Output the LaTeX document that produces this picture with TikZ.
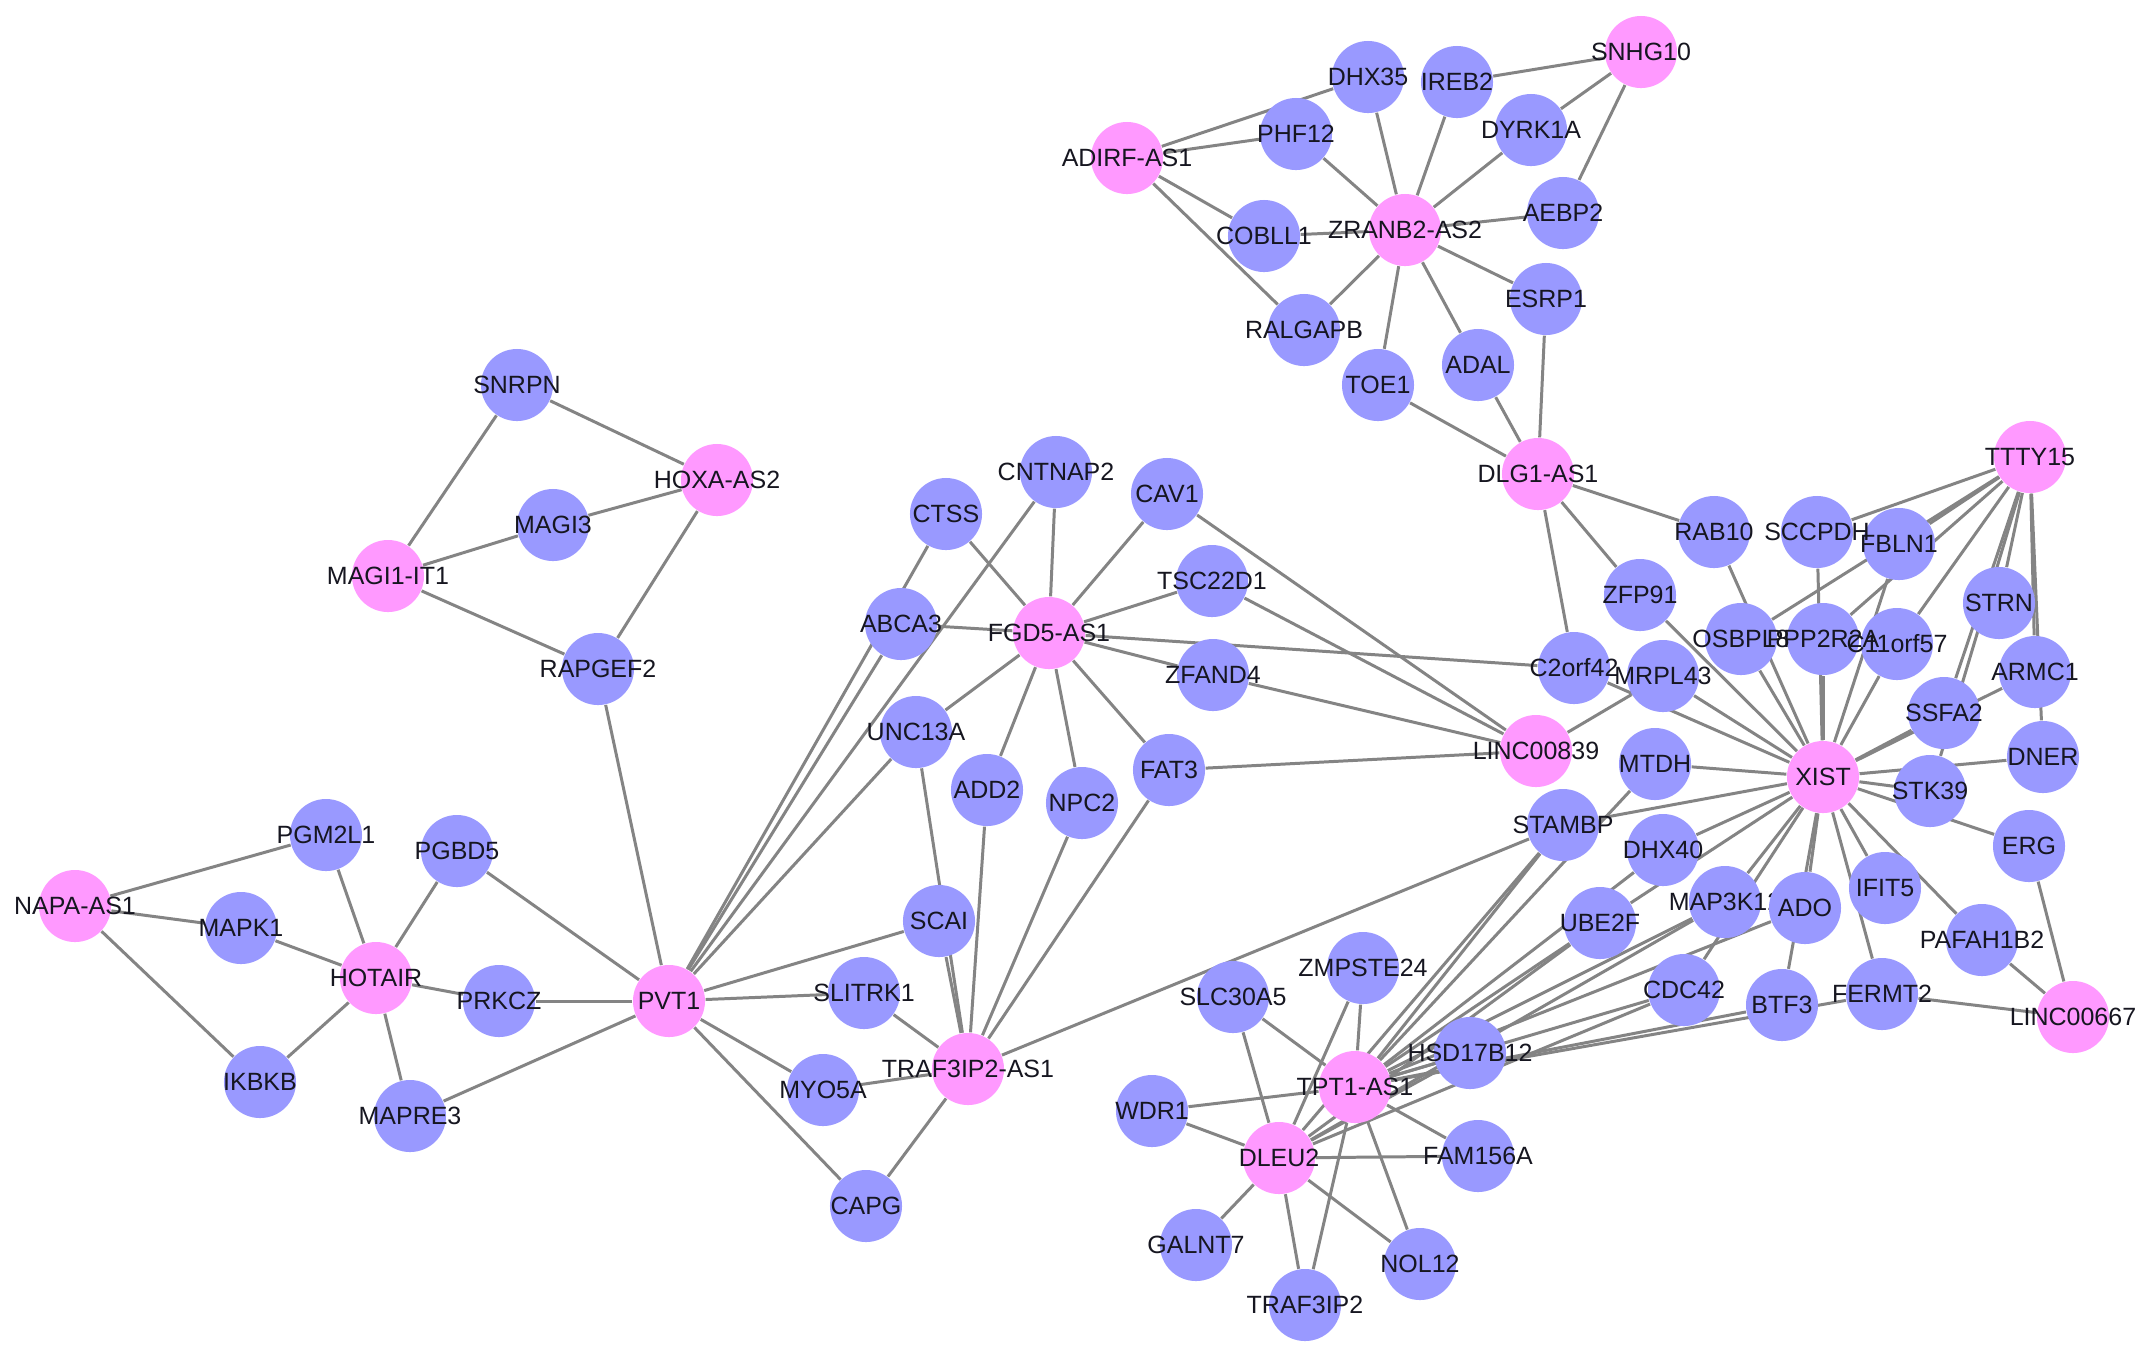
\documentclass[tikz,border=0pt]{standalone}
\usepackage{fontspec}
\setmainfont{Liberation Sans}
\usetikzlibrary{backgrounds}
\definecolor{pinkc}{RGB}{255,153,255}
\definecolor{bluec}{RGB}{153,153,255}
\definecolor{edgec}{RGB}{132,132,132}
\definecolor{labc}{RGB}{22,22,32}
\tikzset{
  gnode/.style={circle, minimum size=0.72cm, inner sep=0pt, draw=none},
  pk/.style={gnode, fill=pinkc},
  bl/.style={gnode, fill=bluec},
  lab/.style={font=\fontsize{7.1}{8}\selectfont, text=labc, inner sep=0pt},
  edge/.style={draw=edgec, line width=0.85pt}
}
\newcommand{\gn}[4]{\node[#1] (#2) at (#3,#4) {};}
\begin{document}
\begin{tikzpicture}[x=0.01cm, y=-0.01cm]
\useasboundingbox (0,0) rectangle (2150,1359);
% lncRNA nodes
\gn{pk}{snhg}{1641}{52}
\gn{pk}{adirf}{1127}{158}
\gn{pk}{zranb}{1405}{230}
\gn{pk}{dlg}{1538}{474}
\gn{pk}{ttty}{2030}{457}
\gn{pk}{hoxa}{717}{480}
\gn{pk}{magiit}{388}{576}
\gn{pk}{fgd}{1049}{633}
\gn{pk}{lincA}{1536}{751}
\gn{pk}{xist}{1823}{777}
\gn{pk}{napa}{75}{906}
\gn{pk}{hotair}{376}{978}
\gn{pk}{pvt}{669}{1001}
\gn{pk}{trafas}{968}{1069}
\gn{pk}{tpt}{1355}{1087}
\gn{pk}{dleu}{1279}{1158}
\gn{pk}{lincB}{2073}{1017}
% mRNA nodes
\gn{bl}{dhx35}{1368}{77}
\gn{bl}{ireb2}{1457}{82}
\gn{bl}{dyrk1a}{1531}{130}
\gn{bl}{phf12}{1296}{134}
\gn{bl}{aebp2}{1563}{213}
\gn{bl}{cobll1}{1264}{236}
\gn{bl}{esrp1}{1546}{299}
\gn{bl}{ralgapb}{1304}{330}
\gn{bl}{adal}{1478}{365}
\gn{bl}{toe1}{1378}{385}
\gn{bl}{snrpn}{517}{385}
\gn{bl}{magi3}{553}{525}
\gn{bl}{rapgef2}{598}{669}
\gn{bl}{cntnap2}{1056}{472}
\gn{bl}{cav1}{1167}{494}
\gn{bl}{ctss}{946}{514}
\gn{bl}{tsc22d1}{1212}{581}
\gn{bl}{abca3}{901}{624}
\gn{bl}{zfand4}{1213}{675}
\gn{bl}{unc13a}{916}{732}
\gn{bl}{add2}{987}{790}
\gn{bl}{npc2}{1082}{803}
\gn{bl}{fat3}{1169}{770}
\gn{bl}{scai}{939}{921}
\gn{bl}{slitrk1}{864}{993}
\gn{bl}{myo5a}{823}{1090}
\gn{bl}{capg}{866}{1206}
\gn{bl}{pgm2l1}{326}{835}
\gn{bl}{pgbd5}{457}{851}
\gn{bl}{mapk1}{241}{928}
\gn{bl}{prkcz}{499}{1001}
\gn{bl}{ikbkb}{260}{1082}
\gn{bl}{mapre3}{410}{1116}
\gn{bl}{rab10}{1714}{532}
\gn{bl}{sccpdh}{1817}{532}
\gn{bl}{fbln1}{1899}{544}
\gn{bl}{zfp91}{1640}{595}
\gn{bl}{strn}{1999}{603}
\gn{bl}{osbpl8}{1741}{639}
\gn{bl}{ppp2r2a}{1823}{639}
\gn{bl}{c11orf57}{1897}{644}
\gn{bl}{armc1}{2035}{672}
\gn{bl}{c2orf42}{1574}{668}
\gn{bl}{mrpl43}{1663}{676}
\gn{bl}{ssfa2}{1944}{713}
\gn{bl}{dner}{2043}{757}
\gn{bl}{mtdh}{1655}{764}
\gn{bl}{stk39}{1930}{791}
\gn{bl}{stambp}{1563}{825}
\gn{bl}{erg}{2029}{846}
\gn{bl}{dhx40}{1663}{850}
\gn{bl}{ifit5}{1885}{888}
\gn{bl}{map3k12}{1725}{902}
\gn{bl}{ube2f}{1600}{923}
\gn{bl}{pafah1b2}{1982}{940}
\gn{bl}{cdc42}{1684}{990}
\gn{bl}{btf3}{1782}{1005}
\gn{bl}{fermt2}{1882}{994}
\gn{bl}{hsd17b12}{1470}{1053}
\gn{bl}{zmpste24}{1363}{968}
\gn{bl}{slc30a5}{1233}{997}
\gn{bl}{wdr1}{1152}{1111}
\gn{bl}{fam156a}{1478}{1156}
\gn{bl}{galnt7}{1196}{1245}
\gn{bl}{nol12}{1420}{1264}
\gn{bl}{traf3ip2}{1305}{1305}
% labels
\foreach \n/\t in {snhg/SNHG10, adirf/ADIRF-AS1, zranb/ZRANB2-AS2, dlg/DLG1-AS1, ttty/TTTY15, hoxa/HOXA-AS2, magiit/MAGI1-IT1, fgd/FGD5-AS1, lincA/LINC00839, xist/XIST, napa/NAPA-AS1, hotair/HOTAIR, pvt/PVT1, trafas/TRAF3IP2-AS1, tpt/TPT1-AS1, dleu/DLEU2, lincB/LINC00667,
 dhx35/DHX35, ireb2/IREB2, dyrk1a/DYRK1A, phf12/PHF12, aebp2/AEBP2, cobll1/COBLL1, esrp1/ESRP1, ralgapb/RALGAPB, adal/ADAL, toe1/TOE1, snrpn/SNRPN, magi3/MAGI3, rapgef2/RAPGEF2, cntnap2/CNTNAP2, cav1/CAV1, ctss/CTSS, tsc22d1/TSC22D1, abca3/ABCA3, zfand4/ZFAND4, unc13a/UNC13A, add2/ADD2, npc2/NPC2, fat3/FAT3, scai/SCAI, slitrk1/SLITRK1, myo5a/MYO5A, capg/CAPG, pgm2l1/PGM2L1, pgbd5/PGBD5, mapk1/MAPK1, prkcz/PRKCZ, ikbkb/IKBKB, mapre3/MAPRE3, rab10/RAB10, sccpdh/SCCPDH, fbln1/FBLN1, zfp91/ZFP91, strn/STRN, osbpl8/OSBPL8, ppp2r2a/PPP2R2A, c11orf57/C11orf57, armc1/ARMC1, c2orf42/C2orf42, mrpl43/MRPL43, ssfa2/SSFA2, dner/DNER, mtdh/MTDH, stk39/STK39, stambp/STAMBP, erg/ERG, dhx40/DHX40, ifit5/IFIT5, map3k12/MAP3K12, ube2f/UBE2F, pafah1b2/PAFAH1B2, cdc42/CDC42, btf3/BTF3, fermt2/FERMT2, hsd17b12/HSD17B12, zmpste24/ZMPSTE24, slc30a5/SLC30A5, wdr1/WDR1, fam156a/FAM156A, galnt7/GALNT7, nol12/NOL12, traf3ip2/TRAF3IP2}
 \node[lab] (\n-t) at (\n) {\t};
% ADO drawn last (covers the end of the MAP3K12 label)
\node[bl, label={[lab]center:ADO}] (ado) at (1805,908) {};
\begin{scope}[on background layer]
\fill[white] (0,0) rectangle (2150,1359);
\foreach \a/\b in {
 magiit/snrpn, magiit/magi3, magiit/rapgef2,
 hoxa/snrpn, hoxa/magi3, hoxa/rapgef2,
 pvt/rapgef2, pvt/pgbd5, pvt/prkcz, pvt/mapre3, pvt/ctss, pvt/abca3, pvt/cntnap2, pvt/unc13a, pvt/scai, pvt/slitrk1, pvt/myo5a, pvt/capg,
 napa/pgm2l1, napa/mapk1, napa/ikbkb,
 hotair/pgm2l1, hotair/pgbd5, hotair/mapk1, hotair/prkcz, hotair/ikbkb, hotair/mapre3,
 fgd/ctss, fgd/cntnap2, fgd/cav1, fgd/abca3, fgd/tsc22d1, fgd/zfand4, fgd/c2orf42, fgd/unc13a, fgd/add2, fgd/npc2, fgd/fat3,
 trafas/unc13a, trafas/scai, trafas/add2, trafas/npc2, trafas/fat3, trafas/slitrk1, trafas/myo5a, trafas/capg, trafas/stambp,
 lincA/cav1, lincA/tsc22d1, lincA/zfand4, lincA/fat3, lincA/mrpl43,
 adirf/dhx35, adirf/phf12, adirf/cobll1, adirf/ralgapb,
 zranb/phf12, zranb/dhx35, zranb/ireb2, zranb/dyrk1a, zranb/aebp2, zranb/cobll1, zranb/esrp1, zranb/ralgapb, zranb/toe1, zranb/adal,
 snhg/ireb2, snhg/dyrk1a, snhg/aebp2,
 dlg/toe1, dlg/adal, dlg/esrp1, dlg/rab10, dlg/zfp91, dlg/c2orf42,
 xist/mrpl43, xist/c2orf42, xist/zfp91, xist/osbpl8, xist/rab10, xist/ppp2r2a, xist/sccpdh, xist/c11orf57, xist/fbln1, xist/ssfa2, xist/armc1, xist/stk39, xist/dner, xist/erg, xist/mtdh, xist/stambp, xist/dhx40, xist/ube2f, xist/map3k12, xist/cdc42, xist/ado, xist/btf3, xist/ifit5, xist/fermt2, xist/pafah1b2,
 ttty/sccpdh, ttty/fbln1, ttty/osbpl8, ttty/ppp2r2a, ttty/c11orf57, ttty/strn, ttty/ssfa2, ttty/stk39, ttty/armc1, ttty/dner,
 lincB/fermt2, lincB/pafah1b2, lincB/erg,
 tpt/stambp, tpt/mtdh, tpt/ube2f, tpt/dhx40, tpt/map3k12, tpt/ado, tpt/cdc42, tpt/btf3, tpt/fermt2, tpt/hsd17b12, tpt/zmpste24, tpt/slc30a5, tpt/wdr1, tpt/fam156a, tpt/nol12, tpt/traf3ip2,
 dleu/slc30a5, dleu/wdr1, dleu/galnt7, dleu/traf3ip2, dleu/nol12, dleu/fam156a, dleu/zmpste24, dleu/hsd17b12, dleu/cdc42, dleu/stambp, dleu/ube2f, dleu/map3k12}
 \draw[edge] (\a) -- (\b);
\end{scope}
\end{tikzpicture}
\end{document}
